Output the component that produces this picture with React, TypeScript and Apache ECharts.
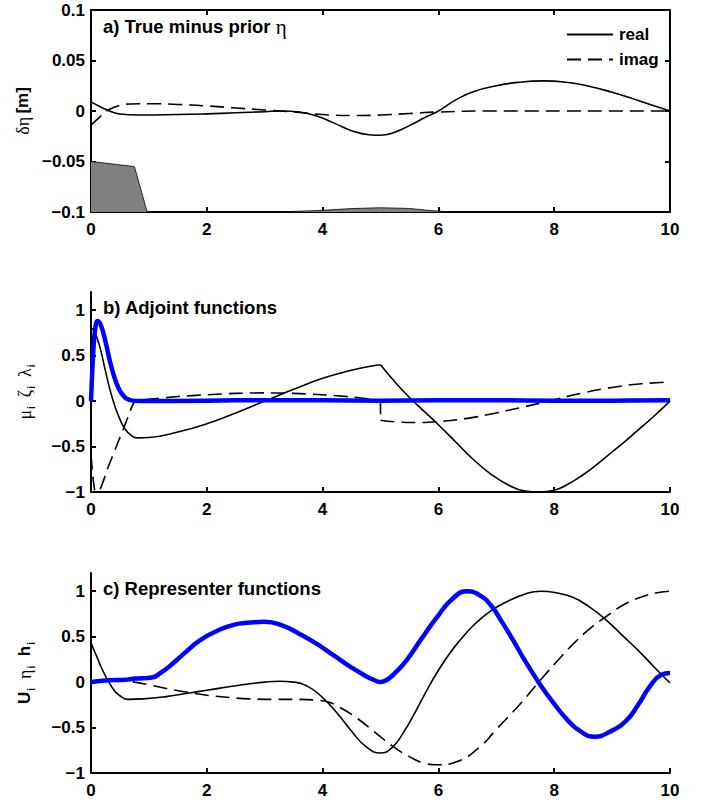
import React, { useEffect, useRef } from 'react';
import * as echarts from 'echarts';

// ---------- tick values ----------
const xTickValues = [0, 2, 4, 6, 8, 10];
const aYTickValues = [-0.1, -0.05, 0, 0.05, 0.1];
const bcYTickValues = [-1, -0.5, 0, 0.5, 1];

// ---------- panel a: true minus prior eta ----------
const aShade: number[][] = [[0, -0.05], [0.75, -0.055], [0.97, -0.1], [3.2, -0.1], [3.6, -0.0992], [4, -0.0983], [4.5, -0.0966], [5, -0.0958], [5.5, -0.0965], [5.8, -0.0982], [6.2, -0.1], [10, -0.1]];
const aReal: number[][] = [[0, 0.009], [0.15, 0.0045], [0.3, 0.0005], [0.5, -0.003], [0.8, -0.004], [1.5, -0.0035], [2, -0.0028], [2.5, -0.0018], [3, -0.0007], [3.3, 0], [3.6, -0.001], [3.9, -0.005], [4.2, -0.012], [4.5, -0.0195], [4.8, -0.0235], [5, -0.024], [5.2, -0.022], [5.5, -0.0145], [5.8, -0.0055], [6, 0], [6.3, 0.011], [6.6, 0.019], [7, 0.025], [7.4, 0.0285], [7.8, 0.0298], [8.2, 0.0285], [8.6, 0.0245], [9, 0.0185], [9.5, 0.0095], [10, 0]];
const aImag: number[][] = [[0, -0.014], [0.15, -0.006], [0.3, 0.001], [0.5, 0.0055], [0.7, 0.007], [1, 0.0072], [1.5, 0.0065], [2, 0.005], [2.5, 0.003], [3, 0.001], [3.5, -0.001], [4, -0.0035], [4.5, -0.0045], [5, -0.004], [5.5, -0.0025], [6, -0.001], [7, 0], [10, 0]];

// ---------- panel b: adjoint functions ----------
const bRealLeft: number[][] = [[0, 0.8], [0.05, 0.78], [0.1, 0.7], [0.16, 0.58], [0.25, 0.33], [0.33, 0.12], [0.42, -0.07], [0.5, -0.2], [0.58, -0.3], [0.68, -0.37], [0.8, -0.405], [1, -0.4], [1.5, -0.34], [2, -0.25], [2.5, -0.13], [3, 0], [3.5, 0.13], [4, 0.25], [4.5, 0.34], [4.8, 0.38], [5, 0.4]];
const bRealRight: number[][] = [[5, 0.4], [5.25, 0.21], [5.5, 0.04], [5.75, -0.11], [6, -0.26], [6.3, -0.45], [6.6, -0.64], [6.9, -0.8], [7.2, -0.92], [7.5, -0.99], [7.75, -1.0], [8, -0.98], [8.25, -0.91], [8.5, -0.81], [8.75, -0.69], [9, -0.56], [9.25, -0.43], [9.5, -0.29], [9.75, -0.15], [10, 0]];
const bImagLeft: number[][] = [[0, -0.6], [0.06, -0.97], [0.12, -1], [0.3, -0.72], [0.45, -0.48], [0.6, -0.24], [0.76, 0], [1, 0.02], [1.5, 0.05], [2, 0.07], [2.5, 0.085], [3, 0.09], [3.5, 0.085], [4, 0.07], [4.5, 0.045], [5, 0.01]];
const bImagJump: number[][] = [[5, 0.01], [5, -0.21]];
const bImagRight: number[][] = [[5, -0.21], [5.3, -0.23], [5.6, -0.235], [6, -0.225], [6.5, -0.19], [7, -0.13], [7.5, -0.06], [7.9, 0], [8.5, 0.09], [9, 0.15], [9.5, 0.19], [10, 0.21]];
const bBlue: number[][] = [[0, 0], [0.02, 0.3], [0.05, 0.65], [0.08, 0.83], [0.11, 0.88], [0.15, 0.86], [0.2, 0.78], [0.27, 0.6], [0.33, 0.43], [0.4, 0.27], [0.47, 0.15], [0.55, 0.065], [0.62, 0.025], [0.72, 0.005], [0.85, 0], [2, 0.005], [3, 0.01], [4, 0.01], [5, 0.005], [6, 0.01], [7, 0.01], [8, 0.005], [9, 0.005], [10, 0.01]];

// ---------- panel c: representer functions ----------
const cReal: number[][] = [[0, 0.43], [0.1, 0.28], [0.2, 0.13], [0.3, 0.01], [0.4, -0.09], [0.5, -0.15], [0.64, -0.19], [0.9, -0.185], [1.3, -0.16], [1.7, -0.12], [2, -0.09], [2.5, -0.04], [3, 0], [3.25, 0.01], [3.5, 0], [3.75, -0.05], [4, -0.17], [4.25, -0.34], [4.5, -0.54], [4.75, -0.71], [5, -0.78], [5.2, -0.72], [5.4, -0.55], [5.6, -0.33], [5.8, -0.09], [6, 0.13], [6.2, 0.32], [6.4, 0.48], [6.6, 0.62], [6.9, 0.78], [7.2, 0.89], [7.5, 0.97], [7.76, 1.0], [8.05, 0.98], [8.33, 0.93], [8.6, 0.83], [8.85, 0.71], [9.2, 0.5], [9.48, 0.33], [9.75, 0.15], [10, -0.01]];
const cImag: number[][] = [[0, 0], [0.4, 0.02], [0.75, 0.0], [1, -0.03], [1.3, -0.07], [1.65, -0.11], [2, -0.145], [2.4, -0.17], [2.75, -0.185], [3.2, -0.19], [3.61, -0.19], [3.9, -0.2], [4.1, -0.22], [4.3, -0.28], [4.6, -0.4], [4.9, -0.55], [5.22, -0.71], [5.5, -0.82], [5.75, -0.89], [6, -0.91], [6.3, -0.88], [6.72, -0.71], [7, -0.52], [7.4, -0.25], [7.76, 0.02], [8.05, 0.23], [8.33, 0.42], [8.6, 0.58], [8.85, 0.7], [9.2, 0.85], [9.48, 0.93], [9.75, 0.98], [10, 1.0]];
const cBlue: number[][] = [[0, 0], [0.3, 0.02], [0.6, 0.025], [0.7, 0.035], [0.8, 0.04], [1.05, 0.05], [1.2, 0.1], [1.35, 0.17], [1.6, 0.31], [1.88, 0.46], [2.2, 0.57], [2.46, 0.63], [2.75, 0.655], [3.0, 0.665], [3.3, 0.625], [3.6, 0.53], [3.9, 0.42], [4.2, 0.29], [4.5, 0.16], [4.75, 0.065], [4.9, 0.02], [5.0, 0.0], [5.1, 0.02], [5.25, 0.1], [5.45, 0.24], [5.7, 0.47], [5.97, 0.71], [6.25, 0.92], [6.5, 1.0], [6.7, 0.96], [6.9, 0.85], [7.1, 0.66], [7.3, 0.45], [7.5, 0.23], [7.75, -0.02], [8.0, -0.24], [8.22, -0.41], [8.45, -0.54], [8.7, -0.6], [8.95, -0.55], [9.25, -0.42], [9.45, -0.25], [9.65, -0.05], [9.85, 0.08], [10, 0.1]];

const SANS = 'Liberation Sans, Arial, Helvetica, sans-serif';
const SERIF = 'Liberation Serif, Times New Roman, serif';
const DASH = [14, 7];

const fmt = (v: number) => {
  const a = parseFloat(Math.abs(v).toFixed(3));
  return (v < -1e-9 ? '\u2212' : '') + String(a);
};

const labelStyle = { fontFamily: SANS, fontWeight: 'bold' as const, fontSize: 17, color: '#000' };
const axisLineStyle = { show: true, onZero: false, lineStyle: { color: '#000', width: 2 } };
const tickStyle = { show: true, inside: true, length: 5, lineStyle: { color: '#000', width: 2 } };

const labRich = {
  g: { fontFamily: SERIF, fontWeight: 'normal', fontSize: 18, lineHeight: 20, verticalAlign: 'top', color: '#000' },
  b: { fontFamily: SANS, fontWeight: 'bold', fontSize: 17, lineHeight: 20, verticalAlign: 'top', color: '#000' },
  s: { fontFamily: SANS, fontWeight: 'bold', fontSize: 10, lineHeight: 10, padding: [13, 0, 0, 1], verticalAlign: 'bottom', color: '#000' },
};
const titleRich = {
  b: { fontFamily: SANS, fontWeight: 'bold', fontSize: 18.5, color: '#000' },
  g: { fontFamily: SERIF, fontWeight: 'normal', fontSize: 21, color: '#000' },
};

function line(name: string, data: number[][], xi: number, yi: number, opts: any = {}) {
  return {
    name,
    type: 'line',
    xAxisIndex: xi,
    yAxisIndex: yi,
    data,
    symbol: 'none',
    showSymbol: false,
    smooth: opts.smooth ?? 0.5,
    z: opts.z ?? 3,
    lineStyle: { color: opts.color ?? '#000', width: opts.width ?? 1.6, type: opts.dash ? DASH : 'solid' },
    itemStyle: { color: opts.color ?? '#000' },
    emphasis: { disabled: true },
  };
}

export default function App() {
  const ref = useRef<HTMLDivElement>(null);
  useEffect(() => {
    if (!ref.current) return;
    const chart = echarts.init(ref.current, undefined, { renderer: 'svg' });
    const grids = [
      { left: 91, top: 10, width: 579, height: 202 },
      { left: 91, top: 292, width: 579, height: 200 },
      { left: 91, top: 573, width: 579, height: 200 },
    ];
    const xBase = (gi: number, pos: string, showLabel: boolean) => ({
      type: 'value',
      gridIndex: gi,
      position: pos,
      min: 0,
      max: 10,
      interval: 2,
      axisLine: axisLineStyle,
      axisTick: { ...tickStyle, customValues: xTickValues },
      axisLabel: { show: showLabel, ...labelStyle, margin: 9, customValues: xTickValues, formatter: fmt },
      splitLine: { show: false },
    });
    const option: any = {
      animation: false,
      backgroundColor: '#fff',
      grid: grids.map((g) => ({ ...g, containLabel: false, show: false })),
      title: [
        { text: '{b|a) True minus prior }{g|η}', left: 103, top: 16, padding: 0, textStyle: { rich: titleRich } },
        { text: '{b|b) Adjoint functions}', left: 103, top: 298, padding: 0, textStyle: { rich: titleRich } },
        { text: '{b|c) Representer functions}', left: 103, top: 579, padding: 0, textStyle: { rich: titleRich } },
      ],
      legend: {
        data: ['real', 'imag'],
        orient: 'vertical',
        left: 561,
        top: 21,
        itemWidth: 46,
        itemHeight: 14,
        itemGap: 8,
        selectedMode: false,
        itemStyle: { opacity: 0, color: 'rgba(0,0,0,0)', borderWidth: 0 },
        textStyle: { ...labelStyle, padding: [0, 0, 0, 1] },
      },
      xAxis: [
        xBase(0, 'bottom', true),
        xBase(0, 'top', false),
        xBase(1, 'bottom', true),
        xBase(2, 'bottom', true),
      ],
      yAxis: [
        {
          type: 'value', gridIndex: 0, position: 'left', min: -0.1, max: 0.1, interval: 0.05,
          axisLine: axisLineStyle, axisTick: { ...tickStyle, customValues: aYTickValues },
          axisLabel: { ...labelStyle, margin: 6, customValues: aYTickValues, formatter: fmt },
          splitLine: { show: false },
        },
        {
          type: 'value', gridIndex: 0, position: 'right', min: -0.1, max: 0.1, interval: 0.05,
          axisLine: axisLineStyle, axisTick: { ...tickStyle, customValues: aYTickValues },
          axisLabel: { show: false }, splitLine: { show: false },
        },
        {
          type: 'value', gridIndex: 1, position: 'left', min: -1, max: 1.2, interval: 0.5,
          axisLine: axisLineStyle, axisTick: { ...tickStyle, customValues: bcYTickValues },
          axisLabel: { ...labelStyle, margin: 6, customValues: bcYTickValues, formatter: fmt },
          splitLine: { show: false },
        },
        {
          type: 'value', gridIndex: 2, position: 'left', min: -1, max: 1.2, interval: 0.5,
          axisLine: axisLineStyle, axisTick: { ...tickStyle, customValues: bcYTickValues },
          axisLabel: { ...labelStyle, margin: 6, customValues: bcYTickValues, formatter: fmt },
          splitLine: { show: false },
        },
      ],
      graphic: [
        {
          type: 'text', x: 24, y: 111, rotation: Math.PI / 2,
          style: { text: '{g|δη} {b|[m]}', rich: labRich, align: 'center', verticalAlign: 'middle' },
        },
        {
          type: 'text', x: 26, y: 392, rotation: Math.PI / 2,
          style: { text: '{g|μ}{s|i}{g|  ζ}{s|i}{g|  λ}{s|i}', rich: labRich, align: 'center', verticalAlign: 'middle' },
        },
        {
          type: 'text', x: 26, y: 673, rotation: Math.PI / 2,
          style: { text: '{b|U}{s|i}{g|  η}{s|i}{b|  h}{s|i}', rich: labRich, align: 'center', verticalAlign: 'middle' },
        },
      ],
      series: [
        {
          name: 'prior error envelope',
          type: 'line', xAxisIndex: 0, yAxisIndex: 0, data: aShade,
          symbol: 'none', showSymbol: false, smooth: false, z: 1,
          lineStyle: { color: '#000', width: 0.8 },
          areaStyle: { color: '#808080', opacity: 1, origin: 'start' },
          emphasis: { disabled: true },
        },
        line('real', aReal, 0, 0),
        line('imag', aImag, 0, 0, { dash: true }),
        line('b real left', bRealLeft, 2, 2),
        line('b real right', bRealRight, 2, 2),
        line('b imag left', bImagLeft, 2, 2, { dash: true, smooth: 0.2 }),
        line('b imag jump', bImagJump, 2, 2, { dash: true, smooth: false }),
        line('b imag right', bImagRight, 2, 2, { dash: true }),
        line('b blue', bBlue, 2, 2, { color: '#0000ff', width: 4.5, z: 4, smooth: 0.4 }),
        line('c real', cReal, 3, 3),
        line('c imag', cImag, 3, 3, { dash: true }),
        line('c blue', cBlue, 3, 3, { color: '#0000ff', width: 4.5, z: 4 }),
      ],
    };
    chart.setOption(option);
    return () => chart.dispose();
  }, []);
  return <div ref={ref} style={{ position: 'absolute', left: 0, top: 0, width: 705, height: 803 }} />;
}
